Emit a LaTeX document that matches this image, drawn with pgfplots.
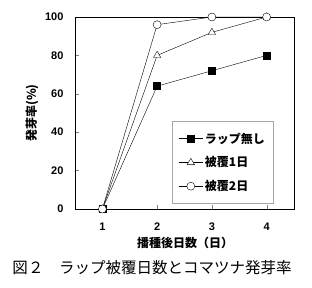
\documentclass[border=0pt]{standalone}
\usepackage{pgfplots}
\pgfplotsset{compat=1.18}
\usepackage{fontspec}
\setmainfont{Liberation Sans}
\newfontfamily\jp{Noto Sans CJK JP}
\begin{document}
\begin{tikzpicture}[x=1pt,y=1pt]
\useasboundingbox (-75,-79) rectangle (237,209);
\begin{axis}[
  at={(0,0)}, anchor=south west,
  scale only axis, width=219pt, height=192pt,
  xmin=0.5, xmax=4.5, ymin=0, ymax=100,
  xtick={1,2,3,4}, ytick={0,20,40,60,80,100},
  tick align=inside, xtick pos=bottom, ytick pos=left,
  major tick length=4pt,
  tick label style={font=\fontsize{11}{12}\selectfont\bfseries},
  /pgf/number format/assume math mode=true,
  yticklabel style={xshift=-8pt},
  xticklabel style={yshift=-10pt},
  axis line style={line width=0.8pt},
  legend style={at={(0.445,0.03)}, anchor=south west, draw=gray!70, fill=white,
    font=\jp\bfseries\fontsize{12}{13}\selectfont, row sep=8pt, inner xsep=6pt, inner ysep=9pt,
    legend cell align=left},
  legend image code/.code={\draw[mark repeat=2,mark phase=2] plot coordinates {(0cm,0cm)(0.42cm,0cm)(0.84cm,0cm)};},
]
\addplot[black, mark=square*, mark size=3.5pt, mark options={fill=black}] coordinates {(1,0) (2,64) (3,72) (4,80)};
\addlegendentry{ラップ無し}
\addplot[black, mark=triangle*, mark size=4.2pt, mark options={fill=white}] coordinates {(1,0) (2,80) (3,92) (4,100)};
\addlegendentry{被覆1日}
\addplot[black, mark=*, mark size=4pt, mark options={fill=white}] coordinates {(1,0) (2,96) (3,100) (4,100)};
\addlegendentry{被覆2日}
\end{axis}
\node[font=\jp\bfseries\fontsize{12}{13}\selectfont, rotate=90] at (-43,96) {発芽率(\%)};
\node[font=\jp\bfseries\fontsize{12}{13}\selectfont] at (110,-34) {播種後日数（日）};
\node[font=\jp\fontsize{15.5}{17}\selectfont] at (77,-59) {図２　ラップ被覆日数とコマツナ発芽率};
\end{tikzpicture}
\end{document}
